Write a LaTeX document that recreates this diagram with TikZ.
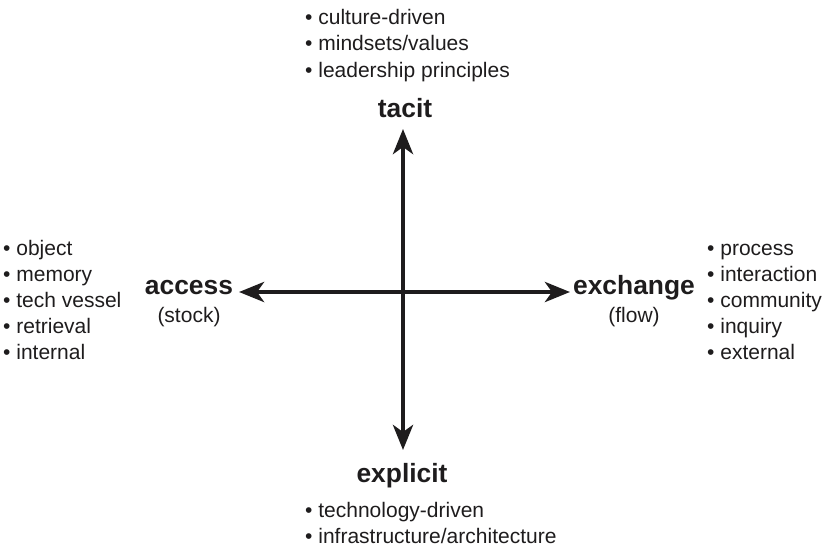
\documentclass[tikz,border=0pt]{standalone}
\usepackage{fontspec}
\setmainfont{Liberation Sans}
\usetikzlibrary{arrows.meta}
\definecolor{ink}{RGB}{30,28,29}
\begin{document}
\begin{tikzpicture}[x=1pt,y=-1pt,
  item/.style={anchor=base west,inner sep=0pt,text=ink,font=\fontsize{21}{25}\selectfont},
  axislabel/.style={anchor=base,inner sep=0pt,text=ink,font=\fontsize{26.4}{30}\selectfont\bfseries},
  sublabel/.style={anchor=base,inner sep=0pt,text=ink,font=\fontsize{21}{25}\selectfont},
  axis/.style={draw=ink,line width=4.5pt,{Stealth[length=25pt,width=20pt,inset=7pt]}-{Stealth[length=25pt,width=20pt,inset=7pt]}}]
\useasboundingbox (0,0) rectangle (827,547);
% top
\node[item] (t1) at (305,24) {• culture-driven};
\node[item] (t2) at (305,50.5) {• mindsets/values};
\node[item] (t3) at (305,77) {• leadership principles};
\node[axislabel] (tacit) at (405,117) {tacit};
% left
\node[item] (l1) at (3,255) {• object};
\node[item] (l2) at (3,281) {• memory};
\node[item] (l3) at (3,307) {• tech vessel};
\node[item] (l4) at (3,333) {• retrieval};
\node[item] (l5) at (3,359) {• internal};
\node[axislabel] (access) at (189,294) {access};
\node[sublabel] (stock) at (189,322) {(stock)};
% right
\node[item] (r1) at (707,255) {• process};
\node[item] (r2) at (707,281) {• interaction};
\node[item] (r3) at (707,307) {• community};
\node[item] (r4) at (707,333) {• inquiry};
\node[item] (r5) at (707,359) {• external};
\node[axislabel] (exchange) at (634,294) {exchange};
\node[sublabel] (flow) at (634,322) {(flow)};
% bottom
\node[axislabel] (explicit) at (402,482) {explicit};
\node[item] (b1) at (305,517) {• technology-driven};
\node[item] (b2) at (305,543) {• infrastructure/architecture};
% axes
\coordinate (top) at (403,129);
\coordinate (bottom) at (403,450);
\coordinate (left) at (239,292);
\coordinate (right) at (570,292);
\draw[axis] (left) -- (right);
\draw[axis] (top) -- (bottom);
\end{tikzpicture}
\end{document}
